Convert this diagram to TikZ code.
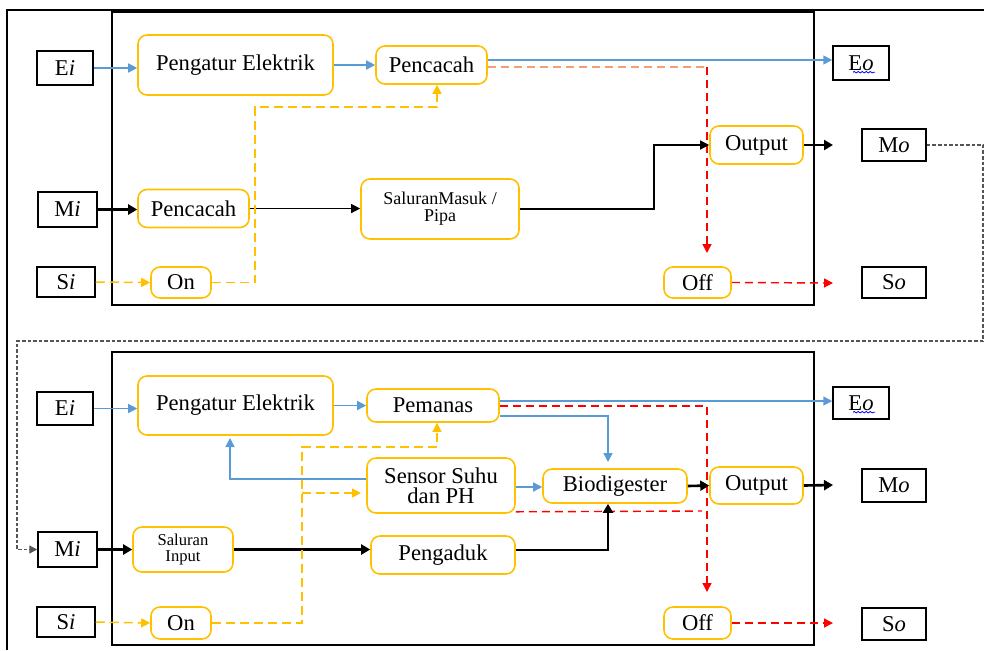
\documentclass[tikz,border=0pt]{standalone}
\usepackage{fontspec}
\setmainfont{Liberation Serif}
\usetikzlibrary{arrows.meta,decorations.pathmorphing}
\definecolor{gold}{HTML}{FFC000}
\definecolor{bl}{HTML}{5B9BD5}
\definecolor{org}{HTML}{F4A070}
\definecolor{dgray}{HTML}{555555}
\begin{document}
\begin{tikzpicture}[x=0.5pt,y=-0.5pt,
 ybox/.style={draw=gold, line width=0.8pt, rounded corners=4.5pt, inner sep=0pt, align=center, font=\fontsize{11.3}{12}\selectfont},
 kbox/.style={draw=black, line width=0.75pt, inner sep=0pt, font=\fontsize{11.3}{12}\selectfont},
 tip/.style={-{Triangle[length=4.5pt,width=4.5pt]}},
 blueln/.style={draw=bl, line width=0.75pt, tip},
 redln/.style={draw=red, line width=0.7pt, dash pattern=on 4pt off 2.5pt},
 yelln/.style={draw=gold, line width=0.75pt, dash pattern=on 4.5pt off 2.5pt},
 blkthick/.style={draw=black, line width=1.3pt, -{Triangle[length=4.5pt,width=5pt]}},
 blkthin/.style={draw=black, line width=0.6pt, -{Triangle[length=4.5pt,width=4.5pt]}},
 grayln/.style={draw=dgray, line width=0.7pt, dash pattern=on 1.8pt off 1pt, -{Triangle[length=4pt,width=4pt]}},
 frame/.style={draw=black, line width=0.6pt}
]
\useasboundingbox (0,0) rectangle (984,650);
% outer frame and blocks
\draw[draw=black, line width=1pt] (7,650) -- (7,10) -- (984,10);
\draw[frame] (112,12) rectangle (814,305);
\draw[frame] (112,352) rectangle (814,645);

% ---------- top block ----------
\node[kbox, minimum width=28pt, minimum height=17pt] (ei1) at (65,68) {E\textit{i}};
\node[ybox, minimum width=97.5pt, minimum height=30pt] (pe1) at (235.5,65) {Pengatur Elektrik};
\node[ybox, minimum width=55.5pt, minimum height=19pt] (pc1) at (431.5,65) {Pencacah};
\node[kbox, minimum width=28pt, minimum height=17pt] (eo1) at (861,63) {E\textit{o}};
\node[kbox, minimum width=29.5pt, minimum height=17.5pt] (mi1) at (67.5,209.5) {M\textit{i}};
\node[ybox, minimum width=55.5pt, minimum height=19pt] (pc2) at (193.5,208.5) {Pencacah};
\node[ybox, minimum width=79pt, minimum height=30pt, font=\fontsize{9}{8.6}\selectfont] (sal1) at (440,209) {SaluranMasuk /\\Pipa};
\node[kbox, minimum width=29pt, minimum height=15pt] (si1) at (66,282) {S\textit{i}};
\node[ybox, minimum width=30pt, minimum height=15.5pt] (on1) at (181,282.5) {On};
\node[ybox, minimum width=46.5pt, minimum height=19pt] (out1) at (756.5,145) {Output};
\node[kbox, minimum width=32pt, minimum height=16pt] (mo1) at (894,145) {M\textit{o}};
\node[ybox, minimum width=33.5pt, minimum height=15.5pt] (off1) at (697.5,282.5) {Off};
\node[kbox, minimum width=32pt, minimum height=15.5pt] (so1) at (894,282.5) {S\textit{o}};

\coordinate (j1) at (654,145);
\coordinate (mo1in) at (833,145);
\coordinate (rv1) at (707,67);
\coordinate (offin1) at (707,253);
\coordinate (so1in) at (833,283);
\coordinate (y1a) at (255,107);
\coordinate (c1) at (983,341);
\coordinate (c2) at (17,341);

\draw[blueln] (ei1.east) -- (ei1.east -| pe1.west);
\draw[blueln] (pe1.east) -- (pe1.east -| pc1.west);
\draw[blueln] ([yshift=2.5pt]pc1.east) -- ([yshift=2.5pt]pc1.east -| eo1.west);
\draw[redln, draw=org] ([yshift=-1pt]pc1.east) -- (rv1);
\draw[redln, tip] (rv1) -- (offin1);
\draw[blkthick] (mi1.east) -- (mi1.east -| pc2.west);
\draw[blkthin] (pc2.east) -- (pc2.east -| sal1.west);
\draw[blkthin] (sal1.east) -| (j1) -- (out1.west);
\draw[blkthick] (out1.east) -- (mo1in);
\draw[yelln, tip] (si1.east) -- (on1.west);
\draw[yelln, tip] (on1.east) -| (y1a) -| ([xshift=2.75pt]pc1.south);
\draw[redln, tip] (off1.east) -- (so1in);
\draw[draw=blue, line width=0.4pt, decorate, decoration={snake, amplitude=0.35pt, segment length=2pt}] ([xshift=-4pt,yshift=-4.6pt]eo1.center) -- ([xshift=7pt,yshift=-4.6pt]eo1.center);

% ---------- bottom block ----------
\node[kbox, minimum width=28pt, minimum height=16.5pt] (ei2) at (65,408.5) {E\textit{i}};
\node[ybox, minimum width=97.5pt, minimum height=29.5pt] (pe2) at (235.5,405.5) {Pengatur Elektrik};
\node[ybox, minimum width=66pt, minimum height=16.5pt] (pm2) at (433,405.5) {Pemanas};
\node[kbox, minimum width=28pt, minimum height=16pt] (eo2) at (861,403) {E\textit{o}};
\node[ybox, minimum width=74pt, minimum height=27.5pt, font=\fontsize{11.3}{10}\selectfont] (sen2) at (441,485.5) {Sensor Suhu\\dan PH};
\node[ybox, minimum width=72pt, minimum height=17pt] (bio2) at (615,486) {Biodigester};
\node[ybox, minimum width=46.5pt, minimum height=18.5pt] (out2) at (756.5,485.5) {Output};
\node[kbox, minimum width=32pt, minimum height=16.5pt] (mo2) at (894,485.5) {M\textit{o}};
\node[kbox, minimum width=29.5pt, minimum height=17.5pt] (mi2) at (67.5,549.5) {M\textit{i}};
\node[ybox, minimum width=50pt, minimum height=22.5pt, font=\fontsize{8.3}{8.3}\selectfont] (sin2) at (183,549.5) {Saluran\\Input};
\node[ybox, minimum width=72pt, minimum height=19pt] (pg2) at (443,555) {Pengaduk};
\node[kbox, minimum width=29pt, minimum height=15pt] (si2) at (66,622) {S\textit{i}};
\node[ybox, minimum width=30pt, minimum height=16pt] (on2) at (181,623) {On};
\node[ybox, minimum width=33.5pt, minimum height=16pt] (off2) at (697.5,623) {Off};
\node[kbox, minimum width=32pt, minimum height=16pt] (so2) at (894,624) {S\textit{o}};

\coordinate (rv2) at (707,406);
\coordinate (offin2) at (707,592);
\coordinate (bv2) at (608,416);
\coordinate (bioin2) at (608,462);
\coordinate (lb2) at (230,479);
\coordinate (pein2) at (230,438);
\coordinate (rs2) at (702,511);
\coordinate (mo2in) at (833,485);
\coordinate (ya2) at (302,447);
\coordinate (yb2) at (302,493);
\coordinate (senin2) at (361,493);
\coordinate (so2in) at (833,623);

\draw[blueln] (ei2.east) -- (ei2.east -| pe2.west);
\draw[blueln] (pe2.east) -- (pe2.east -| pm2.west);
\draw[blueln] ([yshift=2.25pt]pm2.east) -- ([yshift=2.25pt]pm2.east -| eo2.west);
\draw[redln, tip] ([yshift=-0.25pt]pm2.east) -- (rv2) -- (offin2);
\draw[blueln] ([yshift=-5.25pt]pm2.east) -- (bv2) -- (bioin2);
\draw[blueln] ([yshift=3.25pt]sen2.west) -- (lb2) -- (pein2);
\draw[blueln] ([yshift=-0.75pt]sen2.east) -- ([yshift=-0.75pt]sen2.east -| bio2.west);
\draw[redln] ([yshift=1pt]sen2.south east) -- (rs2);
\draw[blkthick] (bio2.east) -- (out2.west);
\draw[blkthick] (out2.east) -- (mo2in);
\draw[blkthick] (mi2.east) -- (sin2.west);
\draw[blkthick] (sin2.east) -- (sin2.east -| pg2.west);
\draw[blkthick] ([yshift=2.5pt]pg2.east) -| ([xshift=-3.5pt]bio2.south);
\draw[yelln, tip] (si2.east) -- (on2.west);
\draw[yelln, tip] (on2.east) -| (ya2) -| ([xshift=2pt]pm2.south);
\draw[yelln, tip] (yb2) -- (senin2);
\draw[redln, tip] (off2.east) -- (so2in);
\draw[draw=blue, line width=0.4pt, decorate, decoration={snake, amplitude=0.35pt, segment length=2pt}] ([xshift=-4pt,yshift=-4.6pt]eo2.center) -- ([xshift=7pt,yshift=-4.6pt]eo2.center);

% link from top Mo to bottom Mi
\draw[grayln] (mo1.east) -| (c1) -- (c2) |- (mi2.west);
\end{tikzpicture}
\end{document}
